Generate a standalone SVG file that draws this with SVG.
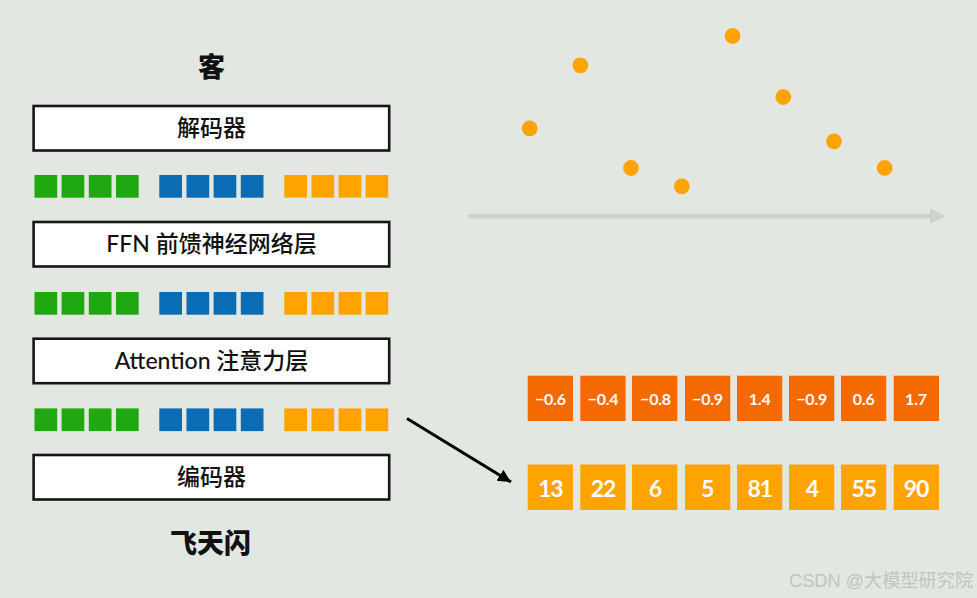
<svg xmlns="http://www.w3.org/2000/svg" width="977" height="598" viewBox="0 0 977 598">
<style>
.t{font-family:"Lato","Noto Sans CJK SC",sans-serif;text-anchor:middle;fill:#111}
.box{fill:#fff;stroke:#161616;stroke-width:2.6}
.lbl{font-size:23px;font-weight:500}
.head{font-size:27px;font-weight:900}
.g{fill:#1fa80f}.b{fill:#0a6cb5}.o{fill:#ffa300}.d{fill:#f46a00}
.n{font-family:"Lato",sans-serif;text-anchor:middle;fill:#fff;font-weight:700}
.n1{font-size:16px;letter-spacing:-.2px}.n2{font-size:23px;letter-spacing:-1.200px}
</style>
<defs>
<g id="cells">
<rect class="g" x="34.5" width="22.7" height="22.7"/><rect class="g" x="61.6" width="22.7" height="22.7"/><rect class="g" x="88.8" width="22.7" height="22.7"/><rect class="g" x="116" width="22.7" height="22.7"/>
<rect class="b" x="159.3" width="22.7" height="22.7"/><rect class="b" x="186.5" width="22.7" height="22.7"/><rect class="b" x="213.6" width="22.7" height="22.7"/><rect class="b" x="240.8" width="22.7" height="22.7"/>
<rect class="o" x="284.3" width="22.7" height="22.7"/><rect class="o" x="311.5" width="22.7" height="22.7"/><rect class="o" x="338.6" width="22.7" height="22.7"/><rect class="o" x="365.6" width="22.7" height="22.7"/>
</g>
<marker id="ah" markerUnits="userSpaceOnUse" markerWidth="14" markerHeight="14" refX="13" refY="6.5" orient="auto"><path d="M0 0L13 6.5L0 13Z" fill="#000"/></marker>
</defs>
<rect width="977" height="598" fill="#e2e7e2"/>
<text id="title-top" class="t head" x="211.500" y="77">客</text>
<text id="title-bottom" class="t head" x="210.500" y="553">飞天闪</text>
<g id="decoder"><rect class="box" x="33.600" y="106" width="355.600" height="44.500"/><text class="t lbl" x="211.500" y="136">解码器</text></g>
<g id="ffn"><rect class="box" x="33.600" y="222" width="355.600" height="44.500"/><text class="t lbl" x="211.500" y="252">FFN 前馈神经网络层</text></g>
<g id="attention"><rect class="box" x="33.600" y="338.700" width="355.600" height="44.500"/><text class="t lbl" x="211.500" y="369">Attention 注意力层</text></g>
<g id="encoder"><rect class="box" x="33.600" y="455" width="355.600" height="44.500"/><text class="t lbl" x="211.500" y="485">编码器</text></g>
<g id="row-1"><use href="#cells" y="175"/></g>
<g id="row-2"><use href="#cells" y="292"/></g>
<g id="row-3"><use href="#cells" y="408.400"/></g>
<g id="dots" class="o">
<circle cx="529.700" cy="128.300" r="7.900"/><circle cx="580.400" cy="65.300" r="7.900"/><circle cx="631" cy="168" r="7.900"/><circle cx="681.800" cy="186.300" r="7.900"/><circle cx="732.600" cy="36" r="7.900"/><circle cx="783.300" cy="97" r="7.900"/><circle cx="834" cy="141.300" r="7.900"/><circle cx="884.700" cy="168" r="7.900"/>
</g>
<g id="connectors">
<path d="M468 216.300H932" stroke="#cfd1cf" stroke-width="4.500" fill="none"/>
<path d="M930 208.500L945.500 216.300L930 224Z" fill="#cfd1cf"/>
<path d="M407 418.500L511 482" stroke="#000" stroke-width="3" fill="none" marker-end="url(#ah)"/>
</g>
<g id="row-top">
<rect class="d" x="527.700" y="375.700" width="45.300" height="45.300"/><text class="n n1" x="550.300" y="404.500">−0.6</text>
<rect class="d" x="580.300" y="375.700" width="45.300" height="45.300"/><text class="n n1" x="603" y="404.500">−0.4</text>
<rect class="d" x="632" y="375.700" width="45.300" height="45.300"/><text class="n n1" x="655.500" y="404.500">−0.8</text>
<rect class="d" x="685" y="375.700" width="45.300" height="45.300"/><text class="n n1" x="707.500" y="404.500">−0.9</text>
<rect class="d" x="737" y="375.700" width="45.300" height="45.300"/><text class="n n1" x="759.600" y="404.500">1.4</text>
<rect class="d" x="789" y="375.700" width="45.300" height="45.300"/><text class="n n1" x="811.700" y="404.500">−0.9</text>
<rect class="d" x="841" y="375.700" width="45.300" height="45.300"/><text class="n n1" x="863.700" y="404.500">0.6</text>
<rect class="d" x="893.700" y="375.700" width="45.300" height="45.300"/><text class="n n1" x="916" y="404.500">1.7</text>
</g>
<g id="row-bottom">
<rect class="o" x="527.700" y="464.500" width="45.300" height="45.500"/><text class="n n2" x="550.300" y="496.500">13</text>
<rect class="o" x="580.300" y="464.500" width="45.300" height="45.500"/><text class="n n2" x="603" y="496.500">22</text>
<rect class="o" x="632" y="464.500" width="45.300" height="45.500"/><text class="n n2" x="654.700" y="496.500">6</text>
<rect class="o" x="685" y="464.500" width="45.300" height="45.500"/><text class="n n2" x="707" y="496.500">5</text>
<rect class="o" x="737" y="464.500" width="45.300" height="45.500"/><text class="n n2" x="759.600" y="496.500">81</text>
<rect class="o" x="789" y="464.500" width="45.300" height="45.500"/><text class="n n2" x="811.700" y="496.500">4</text>
<rect class="o" x="841" y="464.500" width="45.300" height="45.500"/><text class="n n2" x="863.700" y="496.500">55</text>
<rect class="o" x="893.700" y="464.500" width="45.300" height="45.500"/><text class="n n2" x="916" y="496.500">90</text>
</g>
<text id="watermark" x="789" y="587" font-family="'Liberation Sans','Noto Sans CJK SC',sans-serif" font-size="18.200" fill="#bfc4c0">CSDN @大模型研究院</text>
</svg>
